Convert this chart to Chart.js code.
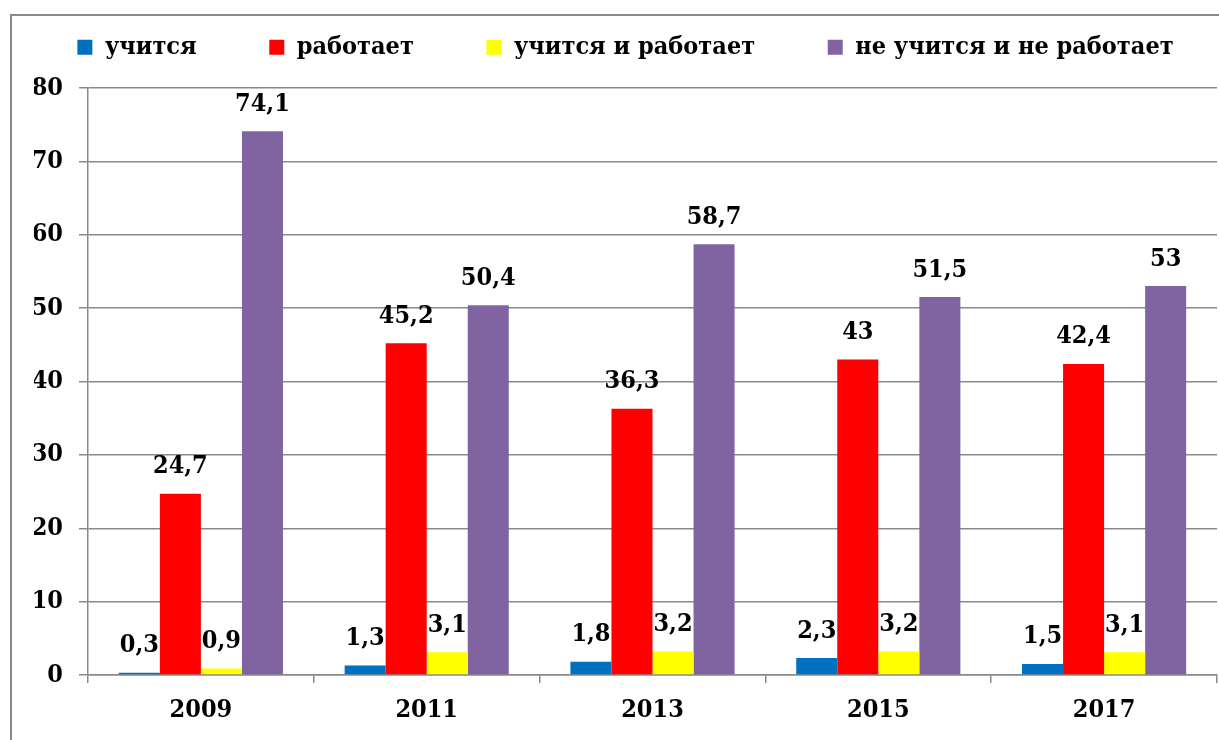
<!DOCTYPE html>
<html>
<head>
<meta charset="utf-8">
<script src="https://cdn.jsdelivr.net/npm/chart.js@4"></script>
<style>
  html, body { margin: 0; padding: 0; background: #fff; overflow: hidden; }
  #wrap { position: relative; width: 1219px; height: 740px; overflow: hidden; }
  #frame { position: absolute; left: 10px; top: 14px; width: 1300px; height: 800px; border: 2px solid #8a8a8a; pointer-events: none; }
  canvas { position: absolute; left: 0; top: 0; }
</style>
</head>
<body>
<div id="wrap">
  <canvas id="myChart" width="1250" height="740" style="width:1250px;height:740px"></canvas>
  <div id="frame"></div>
</div>
<script>
const years = ['2009', '2011', '2013', '2015', '2017'];
const studies = [0.3, 1.3, 1.8, 2.3, 1.5];
const works = [24.7, 45.2, 36.3, 43, 42.4];
const studiesAndWorks = [0.9, 3.1, 3.2, 3.2, 3.1];
const neither = [74.1, 50.4, 58.7, 51.5, 53];
const seriesNames = ['учится', 'работает', 'учится и работает', 'не учится и не работает'];
const seriesColors = ['#0070C0', '#FF0000', '#FFFF00', '#8064A2'];
const yMin = 0, yMax = 80, yStep = 10;

const fontFamily = "'DejaVu Serif Condensed', 'DejaVu Serif', serif";
const fontSize = 25;

// подписи над столбцами
const barLabels = {
  id: 'barLabels',
  afterDatasetsDraw(chart) {
    const ctx = chart.ctx;
    ctx.save();
    ctx.font = 'bold ' + fontSize + 'px ' + fontFamily;
    ctx.fillStyle = '#000';
    ctx.textAlign = 'center';
    ctx.textBaseline = 'middle';
    chart.data.datasets.forEach((ds, i) => {
      chart.getDatasetMeta(i).data.forEach((bar, j) => {
        ctx.fillText(String(ds.data[j]).replace('.', ','), bar.x, bar.y - 27);
      });
    });
    ctx.restore();
  }
};

Chart.defaults.font.family = fontFamily;
Chart.defaults.font.weight = 'bold';
Chart.defaults.color = '#000';

const allSeries = [studies, works, studiesAndWorks, neither];

const chart = new Chart(document.getElementById('myChart'), {
  type: 'bar',
  data: {
    labels: years,
    datasets: allSeries.map((values, i) => ({
      label: seriesNames[i],
      data: values,
      backgroundColor: seriesColors[i],
      borderWidth: 0,
      categoryPercentage: 0.727,
      barPercentage: 1.0,
    })),
  },
  options: {
    responsive: false,
    animation: false,
    layout: { padding: { top: 9, left: 34, right: 33, bottom: 0 } },
    plugins: {
      tooltip: { enabled: false },
      legend: {
        position: 'top',
        labels: {
          boxWidth: 15,
          boxHeight: 15,
          padding: 10,
          color: '#000',
          font: { size: fontSize, weight: 'bold' },
          generateLabels(chart) {
            const items = Chart.defaults.plugins.legend.labels.generateLabels(chart);
            items.forEach((it, i) => {
              if (i < items.length - 1) it.text += '        ';
            });
            return items;
          },
        },
      },
      // пустой отступ между легендой и областью графика
      subtitle: {
        display: true,
        text: '',
        weight: 500,
        font: { size: 1 },
        padding: { top: 17, bottom: 0 },
      },
    },
    scales: {
      x: {
        grid: { display: true, drawOnChartArea: false, drawTicks: true, tickLength: 8, color: '#8a8a8a', lineWidth: 1.5, offset: true },
        border: { display: true, color: '#8a8a8a', width: 1.5 },
        ticks: { color: '#000', font: { size: fontSize, weight: 'bold' }, padding: 12 },
        afterFit: (s) => { s.height = 65; },
      },
      y: {
        min: yMin,
        max: yMax,
        ticks: { stepSize: yStep, color: '#000', font: { size: fontSize, weight: 'bold' }, padding: 16 },
        grid: { color: '#8a8a8a', lineWidth: 1.5, tickLength: 9 },
        border: { display: true, color: '#8a8a8a', width: 1.5 },
        afterFit: (s) => { s.width = 54; s.paddingTop = 88; },
      },
    },
  },
  plugins: [barLabels],
});
</script>
</body>
</html>
